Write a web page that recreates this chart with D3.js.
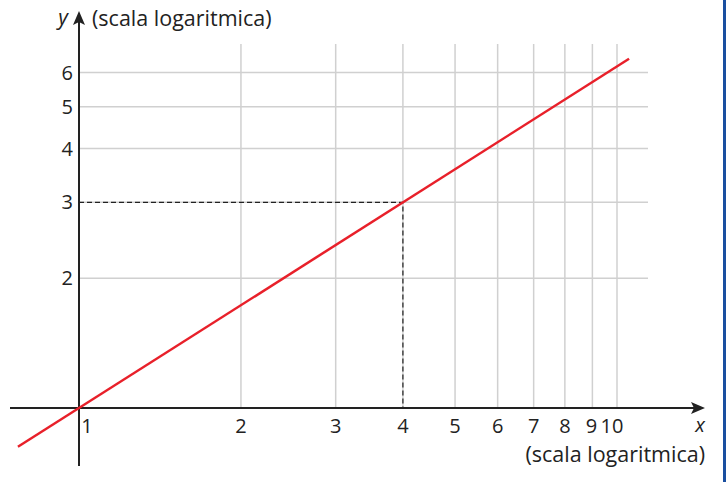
<!DOCTYPE html>
<html><head><meta charset="utf-8">
<script src="https://cdn.jsdelivr.net/npm/d3@7"></script>
<style>body{margin:0;background:#fff}svg{display:block}text{font-family:"Open Sans",Lato,sans-serif;fill:#222}</style>
</head><body>
<script>
const xTicks = [1,2,3,4,5,6,7,8,9,10];
const yTicks = [2,3,4,5,6];
const yLabels = ["2","3","4","5","6"];
const lineX = [0.77, 10.53];          // ends of the red line (x values)
const exponent = Math.log(3)/Math.log(4); // y = x^(log4 3): through (1,1) and (4,3)
const markPoint = {x:4, y:3};

const W=726,H=482;
const svg=d3.select("body").append("svg").attr("width",W).attr("height",H);
const x=d3.scaleLog().domain([1,10]).range([79,617]);
const y=d3.scaleLog().domain([1,6]).range([408,408-431*Math.log10(6)]);

// grid
svg.append("g").selectAll("line").data(xTicks.slice(1)).join("line")
 .attr("x1",d=>x(d)).attr("x2",d=>x(d)).attr("y1",44).attr("y2",408)
 .attr("stroke","#d0d0d0").attr("stroke-width",1.5);
svg.append("g").selectAll("line").data(yTicks).join("line")
 .attr("x1",79).attr("x2",648).attr("y1",d=>y(d)).attr("y2",d=>y(d))
 .attr("stroke","#d0d0d0").attr("stroke-width",1.5);

// dashed
svg.append("path").attr("d",`M${x(1)},${y(markPoint.y)}H${x(markPoint.x)}V${y(1)}`)
 .attr("fill","none").attr("stroke","#222").attr("stroke-width",1.2).attr("stroke-dasharray","5,3");

// axes
svg.append("line").attr("x1",10).attr("x2",696).attr("y1",y(1)).attr("y2",y(1)).attr("stroke","#222").attr("stroke-width",2);
svg.append("path").attr("d",`M705,${y(1)}l-14,-6l3,6l-3,6z`).attr("fill","#222");
svg.append("line").attr("x1",x(1)).attr("x2",x(1)).attr("y1",466).attr("y2",20).attr("stroke","#222").attr("stroke-width",2);
svg.append("path").attr("d",`M${x(1)},11l-6,14l6,-3l6,3z`).attr("fill","#222");

// red line
const pts=lineX.map(v=>[v,Math.pow(v,exponent)]);
svg.append("path").attr("d",d3.line().x(d=>x(d[0])).y(d=>y(d[1]))(pts))
 .attr("fill","none").attr("stroke","#e8202a").attr("stroke-width",2.5);

// tick labels
svg.append("g").selectAll("text").data(xTicks).join("text")
 .attr("x",d=>d===1?x(d)+8:(d===9?x(d)-1:(d===10?x(d)-5:x(d)))).attr("y",433)
 .attr("text-anchor","middle").attr("font-size",20).text(d=>d);
svg.append("g").selectAll("text").data(yTicks).join("text")
 .attr("x",73).attr("y",d=>y(d)+7).attr("text-anchor","end").attr("font-size",20).text((d,i)=>yLabels[i]);

// axis titles
svg.append("text").attr("x",63).attr("y",25).attr("text-anchor","middle").attr("font-size",21).attr("font-style","italic").text("y");
svg.append("text").attr("x",92).attr("y",26).attr("font-size",21.5).text("(scala logaritmica)");
svg.append("text").attr("x",700).attr("y",432).attr("text-anchor","middle").attr("font-size",20).attr("font-style","italic").text("x");
svg.append("text").attr("x",705).attr("y",462).attr("text-anchor","end").attr("font-size",21.5).text("(scala logaritmica)");

// right border
svg.append("rect").attr("x",723).attr("y",0).attr("width",3).attr("height",H).attr("fill","#1a4fa0");
</script>
</body></html>
